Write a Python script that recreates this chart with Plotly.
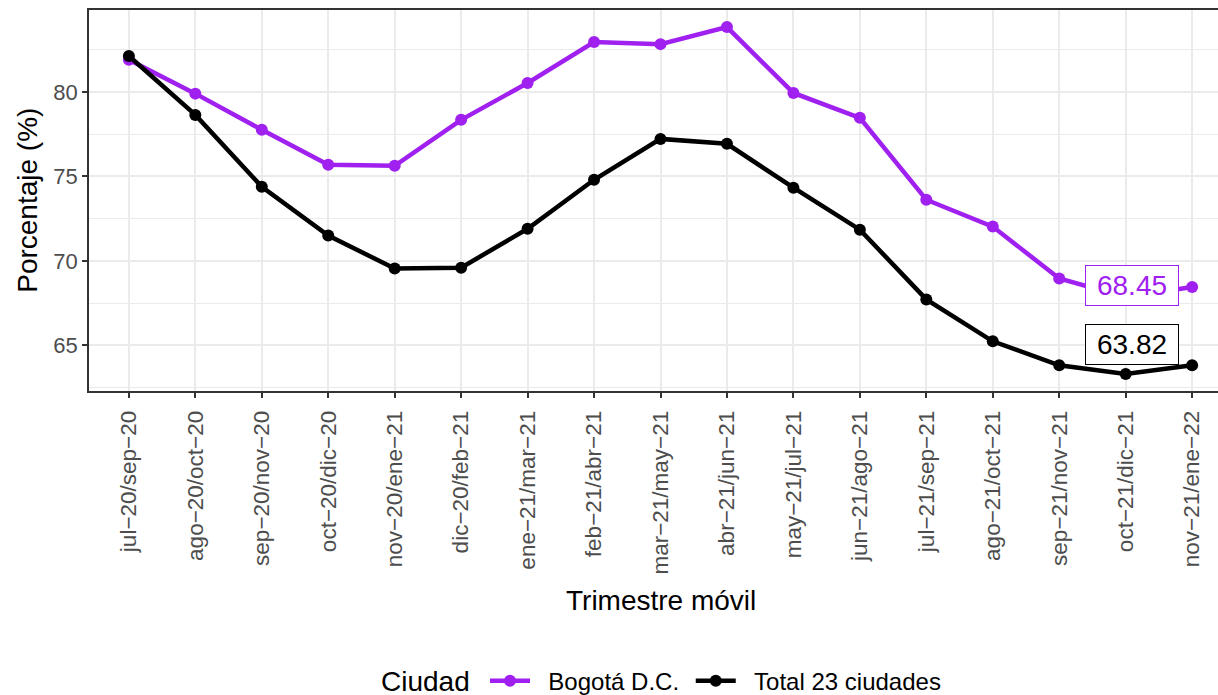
import plotly.graph_objects as go

periods = ["jul−20/sep−20", "ago−20/oct−20", "sep−20/nov−20", "oct−20/dic−20",
           "nov−20/ene−21", "dic−20/feb−21", "ene−21/mar−21", "feb−21/abr−21",
           "mar−21/may−21", "abr−21/jun−21", "may−21/jul−21", "jun−21/ago−21",
           "jul−21/sep−21", "ago−21/oct−21", "sep−21/nov−21", "oct−21/dic−21",
           "nov−21/ene−22"]
bogota = [81.9, 79.9, 77.76, 75.69, 75.63, 78.35, 80.53, 82.95, 82.83, 83.84,
          79.94, 78.47, 73.62, 72.03, 68.96, 67.85, 68.45]
total = [82.13, 78.64, 74.39, 71.5, 69.55, 69.6, 71.9, 74.8, 77.22, 76.93,
         74.33, 71.85, 67.72, 65.24, 63.82, 63.3, 63.82]
series_names = ["Bogotá D.C.", "Total 23 ciudades"]

PURPLE = "#A020F0"
FONT = "Liberation Sans, Arial, sans-serif"
NB = "\u00a0"

fig = go.Figure()
fig.add_trace(go.Scatter(x=periods, y=bogota, mode="lines+markers",
                         name=NB * 2 + series_names[0] + NB,
                         line=dict(color=PURPLE, width=4.5), marker=dict(color=PURPLE, size=12)))
fig.add_trace(go.Scatter(x=periods, y=total, mode="lines+markers",
                         name=NB * 2 + series_names[1],
                         line=dict(color="black", width=4.5), marker=dict(color="black", size=12)))

fig.add_annotation(x=15.1, y=68.56, text=f"{bogota[-1]:.2f}", showarrow=False,
                   font=dict(family=FONT, size=28, color=PURPLE), bgcolor="white",
                   width=86, height=33,
                   bordercolor=PURPLE, borderwidth=1, borderpad=3)
fig.add_annotation(x=15.1, y=65.06, text=f"{total[-1]:.2f}", showarrow=False,
                   font=dict(family=FONT, size=28, color="black"), bgcolor="white",
                   width=86, height=33,
                   bordercolor="black", borderwidth=1, borderpad=3)

# axis titles
fig.add_annotation(xref="paper", yref="paper", x=0.5, y=-0.5486, text="Trimestre móvil",
                   showarrow=False, font=dict(family=FONT, size=28, color="black"),
                   xanchor="center", yanchor="middle")
fig.add_annotation(xref="paper", yref="paper", x=-0.054, y=0.5, text="Porcentaje (%)",
                   showarrow=False, textangle=-90, font=dict(family=FONT, size=28, color="black"),
                   xanchor="center", yanchor="middle")
# legend title
fig.add_annotation(xref="paper", yref="paper", x=(425 - 89) / 1143, y=(391 - 681) / 381,
                   text="Ciudad", showarrow=False,
                   font=dict(family=FONT, size=28, color="black"),
                   xanchor="center", yanchor="middle")

fig.update_layout(
    width=1240, height=695,
    margin=dict(l=89, r=8, t=10, b=304, autoexpand=False),
    plot_bgcolor="white", paper_bgcolor="white",
    font=dict(family=FONT),
    showlegend=True,
    legend=dict(orientation="h", x=(485 - 89) / 1143, xanchor="left", yref="container",
                y=0.02, yanchor="middle", itemwidth=40,
                font=dict(size=24, color="black")),
    xaxis=dict(range=[-0.6, 16.6], showgrid=True, gridcolor="#EBEBEB", gridwidth=1.5,
               tickangle=-90, tickfont=dict(size=22.5, color="#4D4D4D"), automargin=False,
               ticks="outside", ticklen=5, tickcolor="#333333", tickwidth=1.5,
               ticklabelstandoff=4,
               showline=True, linecolor="#333333", linewidth=1.5, mirror=True, zeroline=False),
    yaxis=dict(range=[62.3, 84.85], tickvals=[65, 70, 75, 80], showgrid=True,
               gridcolor="#EBEBEB", gridwidth=1.5, automargin=False,
               minor=dict(tickvals=[62.5, 67.5, 72.5, 77.5, 82.5], showgrid=True,
                          gridcolor="#EBEBEB", gridwidth=0.8),
               tickfont=dict(size=22, color="#4D4D4D"),
               ticks="outside", ticklen=5, tickcolor="#333333", tickwidth=1.5,
               showline=True, linecolor="#333333", linewidth=1.5, mirror=True, zeroline=False),
)

fig.write_html("out.html", config={"displayModeBar": False},
               post_script="document.body.style.margin='0';document.body.style.overflow='hidden';")
